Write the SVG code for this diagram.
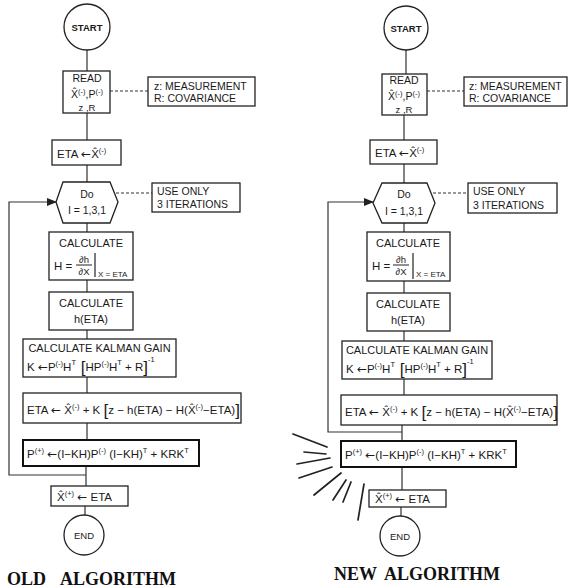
<svg xmlns="http://www.w3.org/2000/svg" width="568" height="588" viewBox="0 0 568 588">
<defs>
<marker id="ah" markerWidth="10" markerHeight="8" refX="9" refY="4" orient="auto" markerUnits="userSpaceOnUse">
<path d="M0,0 L10,4 L0,8 Z" fill="#222"/>
</marker>
<style>
.b{fill:#fff;stroke:#222;stroke-width:1.3}
.bt{fill:#fff;stroke:#111;stroke-width:2}
.c{fill:none;stroke:#333;stroke-width:1.2}
.d{fill:none;stroke:#333;stroke-width:1.2;stroke-dasharray:3,2}
.r{fill:none;stroke:#222;stroke-width:1.7;stroke-linecap:round}
text{font-family:"Liberation Sans",Arial,sans-serif;font-size:10.5px;fill:#1a1a1a}
.f{font-size:11.5px}
.m{text-anchor:middle}
.s{font-size:7.5px}
.sub{font-size:8px}
.k{font-size:17px}
.a{font-family:"DejaVu Sans",sans-serif;font-size:12px}
.ttl{font-family:"Liberation Serif","Times New Roman",serif;font-size:18px;font-weight:bold;fill:#111}
</style>
</defs>
<rect width="568" height="588" fill="#fff"/>

<g id="connectors">
<path class="c" d="M87,50 V71 M87,113 V140 M87,165 V182 M87,223 V232 M87,280 V292 M87,330 V339 M87,377 V393 M87,423 V440 M86,466 V486 M85,506 V515"/>
<path class="d" d="M110,91 H148 M116,193 H152"/>
<path class="c" d="M86,475 H9 V202 H56" marker-end="url(#ah)"/>
<path class="c" d="M406,50 V74 M404,115 V140 M404,164 V183 M404,223 V232 M404,281 V293 M404,331 V341 M404,379 V395 M402,425 V441 M402,467 V490 M401,507 V516"/>
<path class="d" d="M427,91 H464 M433,193 H468"/>
<path class="c" d="M402,432 H328 V202 H373" marker-end="url(#ah)"/>
</g>

<!-- ===== OLD ALGORITHM ===== -->
<g id="old-start"><circle class="b" cx="87" cy="27" r="23"/><text class="m" x="87" y="31" style="font-size:9.5px;font-weight:bold">START</text></g>
<g id="old-read"><rect class="b" x="63" y="71" width="47" height="42"/>
<text class="m" x="87" y="81.5">READ</text>
<text class="m" x="87" y="98">X̂<tspan class="s" dy="-4">(-)</tspan><tspan dy="4">,P</tspan><tspan class="s" dy="-4">(-)</tspan></text>
<text class="m" x="87" y="111" style="font-size:9.5px">z ,R</text></g>
<g id="old-note1"><rect class="b" x="148" y="77" width="107" height="29"/>
<text x="154" y="90">z: MEASUREMENT</text><text x="154" y="102">R: COVARIANCE</text></g>
<g id="old-eta"><rect class="b" x="52" y="140" width="69" height="25"/>
<text class="f" x="57" y="158">ETA <tspan class="a">←</tspan>X̂<tspan class="s" dy="-5">(-)</tspan></text></g>
<g id="old-do"><polygon class="b" points="63,182 110,182 118,202 110,223 63,223 56,202"/>
<text class="m" x="87" y="198">Do</text><text class="m" x="87" y="214">I = 1,3,1</text></g>
<g id="old-note2"><rect class="b" x="152" y="183" width="88" height="29"/>
<text x="157" y="195">USE ONLY</text><text x="157" y="208">3 ITERATIONS</text></g>
<g id="old-calch"><rect class="b" x="49" y="232" width="84" height="48"/>
<text class="m" x="91" y="247" style="font-size:11px">CALCULATE</text>
<text class="f" x="54" y="270">H =</text>
<text class="m" x="84" y="263" style="font-size:9.5px">∂h</text>
<line x1="76" y1="265" x2="92" y2="265" stroke="#222" stroke-width="1"/>
<text class="m" x="84" y="275" style="font-size:9.5px">∂X</text>
<line x1="95" y1="253" x2="95" y2="277" stroke="#222" stroke-width="1.2"/>
<text class="sub" x="98" y="277">X = ETA</text></g>
<g id="old-calc2"><rect class="b" x="49" y="292" width="84" height="38"/>
<text class="m" x="91" y="307" style="font-size:11px">CALCULATE</text><text class="m" x="91" y="323" style="font-size:11px">h(ETA)</text></g>
<g id="old-kalman"><rect class="b" x="23" y="339" width="153" height="38"/>
<text class="m" x="99.5" y="352" style="font-size:11px">CALCULATE KALMAN GAIN</text>
<text class="f" x="27" y="371">K <tspan class="a">←</tspan>P<tspan class="s" dy="-5">(-)</tspan><tspan dy="5">H</tspan><tspan class="s" dy="-6">T</tspan><tspan class="k" dy="8"> [</tspan><tspan dy="-2">HP</tspan><tspan class="s" dy="-5">(-)</tspan><tspan dy="5">H</tspan><tspan class="s" dy="-6">T</tspan><tspan dy="6"> + R</tspan><tspan class="k" dy="2">]</tspan><tspan class="s" dy="-11">-1</tspan></text></g>
<g id="old-etaupd"><rect class="b" x="23" y="393" width="218" height="30"/>
<text class="f" x="27" y="414">ETA <tspan class="a">←</tspan> X̂<tspan class="s" dy="-5">(-)</tspan><tspan dy="5"> + K </tspan><tspan class="k" dy="2">[</tspan><tspan dy="-2">z − h(ETA) − H(X̂</tspan><tspan class="s" dy="-5">(-)</tspan><tspan dy="5">−ETA)</tspan><tspan class="k" dy="2">]</tspan></text></g>
<g id="old-p"><rect class="bt" x="23" y="440" width="176" height="26"/>
<text class="f" x="27" y="458">P<tspan class="s" dy="-5">(+)</tspan><tspan dy="5"> </tspan><tspan class="a">←</tspan>(I−KH)P<tspan class="s" dy="-5">(-)</tspan><tspan dy="5"> (I−KH)</tspan><tspan class="s" dy="-5">T</tspan><tspan dy="5"> + KRK</tspan><tspan class="s" dy="-5">T</tspan></text></g>
<g id="old-xhat"><rect class="b" x="51" y="486" width="77" height="20"/>
<text class="f" x="57" y="501">X̂<tspan class="s" dy="-5">(+)</tspan><tspan dy="5"> </tspan><tspan class="a">←</tspan> ETA</text></g>
<g id="old-end"><circle class="b" cx="84" cy="535" r="20"/><text class="m" x="84" y="539" style="font-size:9.5px">END</text></g>
<text class="ttl" x="7" y="585">OLD</text><text class="ttl" x="60" y="585">ALGORITHM</text>

<!-- ===== NEW ALGORITHM ===== -->
<g id="new-start"><circle class="b" cx="406" cy="28" r="22"/><text class="m" x="406" y="32" style="font-size:9.5px;font-weight:bold">START</text></g>
<g id="new-read"><rect class="b" x="382" y="74" width="45" height="41"/>
<text class="m" x="404" y="84">READ</text>
<text class="m" x="404" y="99.5">X̂<tspan class="s" dy="-4">(-)</tspan><tspan dy="4">,P</tspan><tspan class="s" dy="-4">(-)</tspan></text>
<text class="m" x="404" y="112.5" style="font-size:9.5px">z ,R</text></g>
<g id="new-note1"><rect class="b" x="464" y="77" width="103" height="29"/>
<text x="469" y="90">z: MEASUREMENT</text><text x="469" y="102">R: COVARIANCE</text></g>
<g id="new-eta"><rect class="b" x="370" y="140" width="67" height="24"/>
<text class="f" x="375" y="157">ETA <tspan class="a">←</tspan>X̂<tspan class="s" dy="-5">(-)</tspan></text></g>
<g id="new-do"><polygon class="b" points="382,183 427,183 435,203 427,223 382,223 373,203"/>
<text class="m" x="404" y="198">Do</text><text class="m" x="404" y="215">I = 1,3,1</text></g>
<g id="new-note2"><rect class="b" x="468" y="183" width="89" height="30"/>
<text x="473" y="195">USE ONLY</text><text x="473" y="209">3 ITERATIONS</text></g>
<g id="new-calch"><rect class="b" x="367" y="232" width="83" height="49"/>
<text class="m" x="408" y="247" style="font-size:11px">CALCULATE</text>
<text class="f" x="372" y="270">H =</text>
<text class="m" x="401" y="263" style="font-size:9.5px">∂h</text>
<line x1="393" y1="265" x2="409" y2="265" stroke="#222" stroke-width="1"/>
<text class="m" x="401" y="275" style="font-size:9.5px">∂X</text>
<line x1="413" y1="253" x2="413" y2="279" stroke="#222" stroke-width="1.2"/>
<text class="sub" x="416" y="277">X = ETA</text></g>
<g id="new-calc2"><rect class="b" x="367" y="293" width="83" height="38"/>
<text class="m" x="408" y="308" style="font-size:11px">CALCULATE</text><text class="m" x="408" y="324" style="font-size:11px">h(ETA)</text></g>
<g id="new-kalman"><rect class="b" x="342" y="341" width="150" height="38"/>
<text class="m" x="417" y="354" style="font-size:11px">CALCULATE KALMAN GAIN</text>
<text class="f" x="346" y="373">K <tspan class="a">←</tspan>P<tspan class="s" dy="-5">(-)</tspan><tspan dy="5">H</tspan><tspan class="s" dy="-6">T</tspan><tspan class="k" dy="8"> [</tspan><tspan dy="-2">HP</tspan><tspan class="s" dy="-5">(-)</tspan><tspan dy="5">H</tspan><tspan class="s" dy="-6">T</tspan><tspan dy="6"> + R</tspan><tspan class="k" dy="2">]</tspan><tspan class="s" dy="-11">-1</tspan></text></g>
<g id="new-etaupd"><rect class="b" x="341" y="395" width="216" height="30"/>
<text class="f" x="345" y="416">ETA <tspan class="a">←</tspan> X̂<tspan class="s" dy="-5">(-)</tspan><tspan dy="5"> + K </tspan><tspan class="k" dy="2">[</tspan><tspan dy="-2">z − h(ETA) − H(X̂</tspan><tspan class="s" dy="-5">(-)</tspan><tspan dy="5">−ETA)</tspan><tspan class="k" dy="2">]</tspan></text></g>
<g id="new-p"><rect class="bt" x="341" y="441" width="175" height="26"/>
<text class="f" x="345" y="459">P<tspan class="s" dy="-5">(+)</tspan><tspan dy="5"> </tspan><tspan class="a">←</tspan>(I−KH)P<tspan class="s" dy="-5">(-)</tspan><tspan dy="5"> (I−KH)</tspan><tspan class="s" dy="-5">T</tspan><tspan dy="5"> + KRK</tspan><tspan class="s" dy="-5">T</tspan></text></g>
<g id="new-xhat"><rect class="b" x="369" y="490" width="77" height="17"/>
<text class="f" x="375" y="503">X̂<tspan class="s" dy="-5">(+)</tspan><tspan dy="5"> </tspan><tspan class="a">←</tspan> ETA</text></g>
<g id="new-end"><circle class="b" cx="400" cy="536" r="20"/><text class="m" x="400" y="540" style="font-size:9.5px">END</text></g>
<g id="rays">
<path class="r" d="M293,434 L327,447 M304,452 L326,454 M297,464 L330,458 M299,478 L332,467 M314,495 L341,473 M333,500 L346,480 M343,502 L351,482 M358,520 L364,484"/>
</g>
<text class="ttl" x="334" y="580">NEW</text><text class="ttl" x="384" y="580">ALGORITHM</text>
</svg>
